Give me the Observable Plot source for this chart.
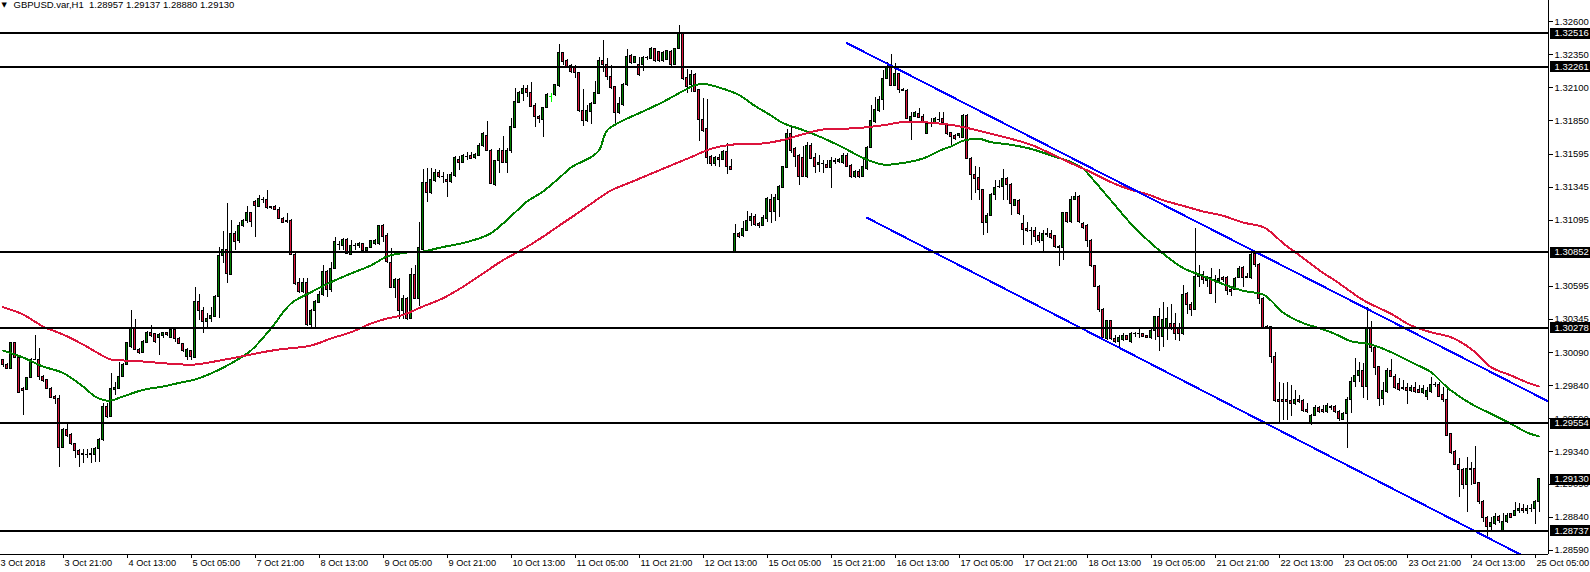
<!DOCTYPE html>
<html><head><meta charset="utf-8">
<script src="https://cdn.jsdelivr.net/npm/d3@7"></script>
<script src="https://cdn.jsdelivr.net/npm/@observablehq/plot@0.6"></script>
<style>
html,body{margin:0;padding:0;background:#fff;}
#chart svg{display:block;}
#chart svg rect,#chart svg line,#chart svg path{shape-rendering:crispEdges;}
</style></head><body><div id="chart"></div>
<script>
const symbolTitle = "GBPUSD.var,H1";
const lastBarOHLC = "1.28957 1.29137 1.28880 1.29130";

const open = [
1.30031,1.30000,1.29968,1.30162,1.30051,1.29816,1.29808,1.29899,1.30038,1.30036,
1.29909,1.29879,1.29816,1.29752,1.29740,1.29365,1.29505,1.29462,1.29393,1.29343,
1.29322,1.29317,1.29317,1.29310,1.29360,1.29424,1.29677,1.29601,1.29808,1.29816,
1.29904,1.30000,1.30132,1.30271,1.30114,1.30086,1.30165,1.30238,1.30228,1.30203,
1.30213,1.30238,1.30203,1.30259,1.30195,1.30157,1.30056,1.30099,1.30051,1.30478,
1.30410,1.30321,1.30347,1.30364,1.30511,1.30827,1.30870,1.30683,1.30992,1.30936,
1.31048,1.31088,1.31149,1.31230,1.31199,1.31250,1.31250,1.31194,1.31199,1.31174,
1.31106,1.31088,1.31093,1.30832,1.30617,1.30549,1.30620,1.30301,1.30405,1.30466,
1.30524,1.30706,1.30562,1.30726,1.30911,1.30903,1.30946,1.30832,1.30906,1.30903,
1.30916,1.30858,1.30883,1.30911,1.30911,1.31048,1.30972,1.30769,1.30579,1.30638,
1.30410,1.30498,1.30347,1.30683,1.30498,1.30870,1.31376,1.31300,1.31391,1.31455,
1.31427,1.31404,1.31384,1.31430,1.31556,1.31528,1.31581,1.31581,1.31566,1.31586,
1.31655,1.31738,1.31624,1.31366,1.31541,1.31617,1.31528,1.31619,1.31794,1.31984,
1.32054,1.32092,1.32059,1.31966,1.31882,1.31857,1.31946,1.32032,1.32042,1.32113,
1.32363,1.32302,1.32269,1.32257,1.32214,1.31923,1.31847,1.31915,1.31979,1.32054,
1.32307,1.32270,1.32181,1.32105,1.31910,1.31971,1.32118,1.32340,1.32290,1.32275,
1.32270,1.32328,1.32320,1.32396,1.32371,1.32302,1.32315,1.32371,1.32275,1.32396,
1.32510,1.32173,1.32118,1.32194,1.32080,1.31857,1.31784,1.31574,1.31523,1.31566,
1.31556,1.31612,1.31498,1.30853,1.30992,1.30979,1.31017,1.31093,1.31118,1.31068,
1.31055,1.31105,1.31250,1.31156,1.31250,1.31341,1.31493,1.31746,1.31637,1.31579,
1.31568,1.31422,1.31662,1.31568,1.31518,1.31523,1.31518,1.31490,1.31543,1.31536,
1.31528,1.31586,1.31510,1.31427,1.31465,1.31427,1.31485,1.31644,1.31839,1.31923,
1.32004,1.32168,1.32269,1.32117,1.32206,1.32085,1.32079,1.31852,1.31882,1.31902,
1.31882,1.31751,1.31832,1.31832,1.31862,1.31862,1.31827,1.31756,1.31738,1.31738,
1.31721,1.31890,1.31561,1.31442,1.31417,1.31321,1.31073,1.31131,1.31288,1.31346,
1.31346,1.31409,1.31359,1.31205,1.31240,1.31063,1.31028,1.31017,1.31010,1.30972,
1.30936,1.30984,1.30987,1.30972,1.30891,1.30883,1.31149,1.31081,1.31250,1.31275,
1.31068,1.31055,1.30941,1.30747,1.30592,1.30415,1.30195,1.30329,1.30195,1.30170,
1.30188,1.30213,1.30170,1.30233,1.30228,1.30228,1.30213,1.30203,1.30253,1.30360,
1.30208,1.30279,1.30309,1.30309,1.30271,1.30228,1.30532,1.30448,1.30415,1.30663,
1.30676,1.30633,1.30656,1.30643,1.30633,1.30658,1.30658,1.30567,1.30567,1.30658,
1.30734,1.30658,1.30658,1.30840,1.30759,1.30499,1.30279,1.30284,1.30056,1.29732,
1.29732,1.29727,1.29722,1.29702,1.29732,1.29722,1.29651,1.29555,1.29613,1.29671,
1.29656,1.29639,1.29671,1.29681,1.29638,1.29580,1.29626,1.29732,1.29871,1.29914,
1.29950,1.29833,1.30271,1.30127,1.29980,1.29740,1.29790,1.29950,1.29909,1.29853,
1.29818,1.29823,1.29798,1.29823,1.29808,1.29783,1.29757,1.29790,1.29848,1.29848,
1.29765,1.29727,1.29469,1.29335,1.29241,1.29201,1.29082,1.29208,1.29208,1.29100,
1.28955,1.28837,1.28766,1.28791,1.28842,1.28740,1.28804,1.28862,1.28854,1.28887,
1.28905,1.28887,1.28905,1.28900,1.28957];

const high = [
1.30036,1.30006,1.30170,1.30170,1.30056,1.29823,1.29904,1.30043,1.30221,1.30119,
1.29914,1.29884,1.29828,1.29765,1.29765,1.29512,1.29545,1.29474,1.29398,1.29353,
1.29353,1.29353,1.29360,1.29373,1.29436,1.29707,1.29702,1.29930,1.29866,1.30018,
1.30006,1.30170,1.30410,1.30339,1.30119,1.30183,1.30254,1.30296,1.30238,1.30233,
1.30246,1.30246,1.30264,1.30284,1.30203,1.30162,1.30119,1.30102,1.30587,1.30531,
1.30435,1.30385,1.30435,1.30524,1.30891,1.31012,1.31225,1.31093,1.31012,1.31080,
1.31103,1.31199,1.31156,1.31245,1.31283,1.31270,1.31321,1.31199,1.31204,1.31189,
1.31118,1.31149,1.31098,1.30840,1.30650,1.30650,1.30655,1.30415,1.30486,1.30557,
1.30751,1.30714,1.30777,1.30967,1.30936,1.30954,1.30954,1.30941,1.30921,1.30929,
1.30921,1.30891,1.30941,1.30946,1.31055,1.31063,1.30992,1.30878,1.30650,1.30650,
1.30524,1.30511,1.30726,1.30751,1.31080,1.31480,1.31485,1.31490,1.31480,1.31472,
1.31460,1.31442,1.31460,1.31579,1.31579,1.31594,1.31612,1.31612,1.31599,1.31675,
1.31763,1.31847,1.31629,1.31548,1.31637,1.31731,1.31637,1.31865,1.32092,1.32075,
1.32118,1.32118,1.32143,1.31979,1.31890,1.31953,1.32054,1.32054,1.32125,1.32429,
1.32371,1.32312,1.32277,1.32270,1.32219,1.32087,1.31966,1.31986,1.32148,1.32333,
1.32459,1.32325,1.32270,1.32113,1.32029,1.32130,1.32391,1.32350,1.32340,1.32333,
1.32340,1.32340,1.32406,1.32401,1.32376,1.32376,1.32383,1.32383,1.32401,1.32573,
1.32517,1.32239,1.32232,1.32206,1.32087,1.32017,1.32011,1.31586,1.31581,1.31591,
1.31624,1.31675,1.31553,1.31060,1.30999,1.31085,1.31161,1.31144,1.31136,1.31080,
1.31131,1.31270,1.31290,1.31290,1.31358,1.31503,1.31781,1.31814,1.31644,1.31594,
1.31654,1.31687,1.31675,1.31599,1.31586,1.31548,1.31548,1.31574,1.31561,1.31561,
1.31599,1.31599,1.31518,1.31472,1.31477,1.31561,1.31654,1.31966,1.32024,1.32034,
1.32231,1.32295,1.32353,1.32282,1.32211,1.32092,1.32085,1.31915,1.31923,1.31940,
1.31897,1.31839,1.31864,1.31872,1.31915,1.31915,1.31832,1.31763,1.31745,1.31756,
1.31895,1.31895,1.31574,1.31503,1.31498,1.31326,1.31144,1.31296,1.31397,1.31397,
1.31478,1.31417,1.31371,1.31250,1.31250,1.31131,1.31081,1.31043,1.31043,1.31005,
1.31017,1.31030,1.31017,1.30979,1.30903,1.31156,1.31156,1.31275,1.31308,1.31283,
1.31078,1.31063,1.30947,1.30752,1.30600,1.30423,1.30334,1.30334,1.30220,1.30220,
1.30233,1.30220,1.30246,1.30246,1.30271,1.30233,1.30220,1.30263,1.30365,1.30423,
1.30473,1.30435,1.30456,1.30390,1.30314,1.30600,1.30549,1.30473,1.31030,1.30752,
1.30709,1.30668,1.30726,1.30676,1.30721,1.30668,1.30668,1.30587,1.30658,1.30744,
1.30744,1.30688,1.30853,1.30853,1.30764,1.30511,1.30296,1.30289,1.30089,1.29866,
1.29859,1.29866,1.29841,1.29803,1.29765,1.29732,1.29702,1.29621,1.29689,1.29682,
1.29689,1.29702,1.29689,1.29689,1.29651,1.29638,1.29752,1.29904,1.30043,1.30018,
1.30005,1.30435,1.30329,1.30132,1.29985,1.29866,1.29967,1.30036,1.29924,1.29891,
1.29879,1.29853,1.29841,1.29866,1.29841,1.29841,1.29823,1.29904,1.29866,1.29866,
1.29823,1.29833,1.29479,1.29347,1.29284,1.29208,1.29297,1.29259,1.29378,1.29107,
1.28968,1.28847,1.28842,1.28867,1.28854,1.28867,1.28867,1.28872,1.28955,1.28948,
1.28938,1.28930,1.28935,1.28968,1.29137];

const low = [
1.29980,1.29960,1.29960,1.30043,1.29778,1.29613,1.29803,1.29892,1.30031,1.29879,
1.29866,1.29811,1.29740,1.29697,1.29221,1.29360,1.29449,1.29386,1.29285,1.29221,
1.29247,1.29285,1.29252,1.29259,1.29259,1.29416,1.29588,1.29596,1.29765,1.29808,
1.29899,1.29993,1.30119,1.30107,1.30076,1.30081,1.30157,1.30208,1.30157,1.30069,
1.30195,1.30213,1.30195,1.30170,1.30152,1.30094,1.30031,1.30031,1.30043,1.30334,
1.30238,1.30283,1.30321,1.30359,1.30352,1.30764,1.30617,1.30676,1.30865,1.30921,
1.31042,1.31073,1.31042,1.30967,1.31194,1.31219,1.31176,1.31180,1.31170,1.31098,
1.31073,1.31068,1.30827,1.30600,1.30536,1.30542,1.30288,1.30283,1.30283,1.30461,
1.30516,1.30511,1.30549,1.30719,1.30865,1.30865,1.30835,1.30827,1.30865,1.30883,
1.30853,1.30853,1.30878,1.30903,1.30903,1.30929,1.30769,1.30574,1.30498,1.30339,
1.30339,1.30334,1.30339,1.30491,1.30440,1.30865,1.31232,1.31290,1.31384,1.31409,
1.31371,1.31270,1.31371,1.31422,1.31472,1.31523,1.31548,1.31556,1.31553,1.31579,
1.31645,1.31619,1.31366,1.31354,1.31447,1.31523,1.31447,1.31599,1.31789,1.31979,
1.31999,1.32029,1.31953,1.31801,1.31827,1.31720,1.31941,1.31991,1.32034,1.32105,
1.32269,1.32257,1.32206,1.32168,1.31915,1.31809,1.31839,1.31819,1.31971,1.32047,
1.32219,1.32156,1.32087,1.31814,1.31895,1.31961,1.32113,1.32275,1.32282,1.32189,
1.32224,1.32307,1.32313,1.32290,1.32290,1.32295,1.32307,1.32257,1.32270,1.32391,
1.32156,1.32054,1.32067,1.32062,1.31693,1.31758,1.31515,1.31505,1.31505,1.31498,
1.31548,1.31440,1.31473,1.30848,1.30959,1.30967,1.31010,1.31050,1.31050,1.31030,
1.31050,1.31080,1.31073,1.31088,1.31118,1.31333,1.31485,1.31604,1.31493,1.31358,
1.31422,1.31409,1.31553,1.31452,1.31460,1.31447,1.31485,1.31333,1.31518,1.31523,
1.31518,1.31498,1.31409,1.31409,1.31409,1.31417,1.31472,1.31637,1.31832,1.31915,
1.31928,1.32160,1.32110,1.32110,1.32054,1.32074,1.31857,1.31700,1.31872,1.31864,
1.31827,1.31746,1.31801,1.31827,1.31839,1.31827,1.31738,1.31654,1.31700,1.31713,
1.31713,1.31554,1.31245,1.31296,1.31245,1.30979,1.30992,1.31124,1.31245,1.31334,
1.31245,1.31245,1.31131,1.31199,1.31131,1.30903,1.31005,1.30903,1.30929,1.30921,
1.30853,1.30967,1.30947,1.30878,1.30747,1.30790,1.31068,1.31073,1.31245,1.31068,
1.31022,1.30891,1.30739,1.30582,1.30397,1.30195,1.30183,1.30183,1.30157,1.30132,
1.30177,1.30183,1.30162,1.30203,1.30195,1.30203,1.30195,1.30188,1.30182,1.30102,
1.30132,1.30182,1.30258,1.30182,1.30177,1.30220,1.30380,1.30365,1.30410,1.30587,
1.30608,1.30587,1.30532,1.30461,1.30625,1.30625,1.30524,1.30516,1.30562,1.30651,
1.30587,1.30651,1.30643,1.30734,1.30456,1.30263,1.30263,1.30010,1.29715,1.29563,
1.29575,1.29575,1.29606,1.29689,1.29707,1.29639,1.29631,1.29537,1.29606,1.29631,
1.29626,1.29631,1.29651,1.29630,1.29570,1.29575,1.29360,1.29626,1.29828,1.29866,
1.29740,1.29727,1.30094,1.29917,1.29681,1.29689,1.29778,1.29899,1.29808,1.29798,
1.29803,1.29697,1.29790,1.29783,1.29778,1.29773,1.29727,1.29783,1.29823,1.29747,
1.29714,1.29454,1.29317,1.29234,1.28993,1.29049,1.28880,1.29082,1.29090,1.28938,
1.28804,1.28685,1.28740,1.28778,1.28796,1.28735,1.28796,1.28829,1.28847,1.28867,
1.28867,1.28860,1.28880,1.28789,1.28880];

const close = [
1.29993,1.29968,1.30162,1.30051,1.29783,1.29796,1.29899,1.30038,1.30036,1.29904,
1.29874,1.29816,1.29747,1.29740,1.29365,1.29505,1.29454,1.29398,1.29343,1.29317,
1.29317,1.29317,1.29322,1.29360,1.29429,1.29677,1.29601,1.29811,1.29823,1.29909,
1.30000,1.30162,1.30271,1.30112,1.30086,1.30170,1.30241,1.30216,1.30170,1.30226,
1.30238,1.30226,1.30259,1.30195,1.30157,1.30102,1.30107,1.30056,1.30474,1.30410,
1.30321,1.30347,1.30372,1.30516,1.30827,1.30870,1.30688,1.30992,1.30929,1.31055,
1.31093,1.31149,1.31080,1.31204,1.31257,1.31250,1.31189,1.31189,1.31174,1.31106,
1.31075,1.31085,1.30832,1.30612,1.30549,1.30620,1.30301,1.30410,1.30473,1.30531,
1.30706,1.30562,1.30726,1.30929,1.30911,1.30946,1.30840,1.30901,1.30906,1.30916,
1.30860,1.30883,1.30934,1.30936,1.31048,1.30967,1.30777,1.30579,1.30638,1.30410,
1.30498,1.30347,1.30683,1.30498,1.30886,1.31379,1.31300,1.31397,1.31455,1.31427,
1.31427,1.31384,1.31435,1.31566,1.31528,1.31581,1.31581,1.31561,1.31591,1.31662,
1.31746,1.31624,1.31371,1.31541,1.31624,1.31528,1.31624,1.31806,1.31991,1.32059,
1.32092,1.32059,1.31958,1.31877,1.31865,1.31948,1.32042,1.32032,1.32118,1.32363,
1.32295,1.32262,1.32219,1.32214,1.31923,1.31847,1.31923,1.31979,1.32062,1.32307,
1.32270,1.32181,1.32097,1.31910,1.31979,1.32123,1.32333,1.32290,1.32333,1.32199,
1.32328,1.32328,1.32396,1.32300,1.32300,1.32366,1.32376,1.32270,1.32396,1.32510,
1.32168,1.32105,1.32194,1.32072,1.31857,1.31776,1.31566,1.31523,1.31566,1.31556,
1.31612,1.31498,1.31480,1.30992,1.30967,1.31030,1.31093,1.31118,1.31060,1.31055,
1.31111,1.31257,1.31156,1.31265,1.31346,1.31498,1.31746,1.31619,1.31574,1.31427,
1.31427,1.31662,1.31561,1.31503,1.31528,1.31523,1.31490,1.31543,1.31536,1.31553,
1.31586,1.31503,1.31427,1.31465,1.31427,1.31498,1.31644,1.31847,1.31933,1.32009,
1.32168,1.32262,1.32117,1.32206,1.32085,1.32079,1.31864,1.31882,1.31907,1.31872,
1.31832,1.31827,1.31832,1.31864,1.31862,1.31832,1.31746,1.31730,1.31713,1.31751,
1.31890,1.31561,1.31442,1.31409,1.31321,1.31073,1.31131,1.31288,1.31341,1.31351,
1.31409,1.31359,1.31215,1.31245,1.31144,1.31022,1.31010,1.31015,1.30967,1.30941,
1.30987,1.30987,1.30962,1.30891,1.30886,1.31149,1.31081,1.31250,1.31275,1.31081,
1.31035,1.30941,1.30747,1.30592,1.30415,1.30203,1.30329,1.30195,1.30170,1.30203,
1.30220,1.30188,1.30233,1.30228,1.30233,1.30208,1.30203,1.30253,1.30360,1.30208,
1.30339,1.30347,1.30279,1.30233,1.30228,1.30524,1.30448,1.30415,1.30668,1.30681,
1.30643,1.30651,1.30537,1.30640,1.30648,1.30638,1.30557,1.30549,1.30651,1.30726,
1.30658,1.30663,1.30835,1.30752,1.30499,1.30279,1.30284,1.30056,1.29722,1.29715,
1.29715,1.29715,1.29702,1.29732,1.29715,1.29646,1.29639,1.29613,1.29671,1.29639,
1.29639,1.29682,1.29674,1.29638,1.29588,1.29626,1.29732,1.29871,1.29914,1.29950,
1.29833,1.30271,1.30127,1.29975,1.29740,1.29798,1.29950,1.29909,1.29823,1.29808,
1.29816,1.29798,1.29823,1.29790,1.29783,1.29816,1.29798,1.29848,1.29841,1.29757,
1.29727,1.29461,1.29327,1.29241,1.29201,1.29082,1.29208,1.29201,1.29095,1.28955,
1.28837,1.28766,1.28796,1.28842,1.28811,1.28804,1.28854,1.28837,1.28887,1.28905,
1.28887,1.28905,1.28900,1.28957,1.29130];

// bar shown as a lime doji cross in the reference
const limeBars = [137];

// moving averages sampled at bar indices
const greenMaBar = [0,5,10,15,20,23,25,27,30,35,40,45,48,52,57,62,67,72,77,82,87,92,96,100,105,110,115,120,122,125,128,131,135,140,142,147,149,151,154,160,165,170,173,175,179,184,188,191,195,200,205,210,215,220,225,230,235,237,240,244,247,252,257,262,267,270,272,277,282,286,290,295,300,305,310,315,317,320,325,330,333,337,342,347,352,357,360,362,367,372,377,381,384];
const greenMa = [1.30107,1.30053,1.29985,1.29936,1.29833,1.29757,1.29731,1.29727,1.29757,1.29807,1.29833,1.29867,1.29886,1.29932,1.30008,1.30107,1.30274,1.30463,1.30549,1.30625,1.30691,1.30752,1.30820,1.30847,1.30858,1.30892,1.30922,1.30968,1.30997,1.31070,1.31154,1.31237,1.31313,1.31442,1.31496,1.31574,1.31625,1.31776,1.31837,1.31921,1.31993,1.32076,1.32120,1.32131,1.32103,1.32046,1.31962,1.31909,1.31833,1.31780,1.31719,1.31647,1.31568,1.31518,1.31530,1.31564,1.31634,1.31655,1.31698,1.31713,1.31688,1.31668,1.31637,1.31587,1.31536,1.31488,1.31422,1.31245,1.31068,1.30949,1.30843,1.30733,1.30672,1.30610,1.30560,1.30532,1.30486,1.30395,1.30315,1.30267,1.30232,1.30177,1.30152,1.30094,1.30018,1.29942,1.29856,1.29803,1.29702,1.29626,1.29550,1.29484,1.29454];
const redMaBar = [0,5,10,15,20,25,27,30,35,40,45,48,57,65,69,77,82,87,92,96,100,105,110,115,120,125,130,135,140,143,147,152,157,162,167,172,177,182,187,190,195,200,205,210,215,220,225,230,235,238,242,247,252,257,262,267,272,277,282,286,290,295,300,305,310,315,317,320,325,330,333,340,347,352,357,362,367,372,377,381,384];
const redMa = [1.30435,1.30380,1.30289,1.30228,1.30152,1.30065,1.30038,1.30031,1.30023,1.30010,1.30000,1.30000,1.30046,1.30094,1.30114,1.30144,1.30198,1.30245,1.30311,1.30349,1.30376,1.30441,1.30503,1.30590,1.30691,1.30792,1.30875,1.30970,1.31074,1.31135,1.31220,1.31321,1.31384,1.31448,1.31511,1.31574,1.31637,1.31668,1.31675,1.31678,1.31704,1.31748,1.31784,1.31789,1.31798,1.31816,1.31840,1.31839,1.31826,1.31814,1.31789,1.31751,1.31713,1.31668,1.31600,1.31528,1.31460,1.31384,1.31326,1.31294,1.31247,1.31205,1.31162,1.31129,1.31078,1.31044,1.31004,1.30922,1.30809,1.30695,1.30638,1.30490,1.30385,1.30296,1.30245,1.30207,1.30119,1.29980,1.29917,1.29864,1.29833];

// descending channel (two trend lines)
const channelUpperBar = [211, 386.375];
const channelUpper = [1.32439, 1.29719];
const channelLowerBar = [216, 386.375];
const channelLower = [1.31114, 1.28448];

// horizontal levels and the current bid
const levels = [1.32516, 1.32261, 1.30852, 1.30278, 1.29554, 1.28737];
const bidPrice = 1.29130;

// axis ticks
const priceTicks = [1.32600,1.32350,1.32100,1.31850,1.31595,1.31345,1.31095,1.30595,1.30345,1.30090,1.29840,1.29590,1.29340,1.29090,1.28840,1.28590];
const timeTickBars = [-1,15,31,47,63,79,95,111,127,143,159,175,191,207,223,239,255,271,287,303,319,335,351,367,383];
const timeTickLabels = ["3 Oct 2018","3 Oct 21:00","4 Oct 13:00","5 Oct 05:00","7 Oct 21:00","8 Oct 13:00","9 Oct 05:00","9 Oct 21:00","10 Oct 13:00","11 Oct 05:00","11 Oct 21:00","12 Oct 13:00","15 Oct 05:00","15 Oct 21:00","16 Oct 13:00","17 Oct 05:00","17 Oct 21:00","18 Oct 13:00","19 Oct 05:00","21 Oct 21:00","22 Oct 13:00","23 Oct 05:00","23 Oct 21:00","24 Oct 13:00","25 Oct 05:00"];

// ---- build tables ----
const n = Math.min(open.length, high.length, low.length, close.length);
const bars = d3.range(n).map(i => ({i, o: open[i], h: high[i], l: low[i], c: close[i]}));
const bodies = bars.filter(d => d.o !== d.c);
const dojis = bars.filter(d => d.o === d.c);
const greenLine = greenMaBar.map((b, j) => ({b, p: greenMa[j]}));
const redLine = redMaBar.map((b, j) => ({b, p: redMa[j]}));
const upperLine = channelUpperBar.map((b, j) => ({b, p: channelUpper[j]}));
const lowerLine = channelLowerBar.map((b, j) => ({b, p: channelLower[j]}));
const timeTicks = timeTickBars.map((b, j) => ({b, label: timeTickLabels[j]}));
const boxes = levels.concat([bidPrice]);

const W = 1590, H = 572, mR = 42, mB = 18;
const xDomain = [-0.625, 386.375];
const yDomain = [1.28558, 1.32763];
const RED = "#dc143c", GREEN = "#008000";
const FONT = "'Liberation Sans', Arial, sans-serif";

const chart = Plot.plot({
  width: W, height: H,
  marginLeft: 0, marginRight: mR, marginTop: 0, marginBottom: mB,
  x: {type: "linear", domain: xDomain, axis: null},
  y: {type: "linear", domain: yDomain, axis: null},
  style: {fontFamily: FONT, fontSize: "9.5px", background: "#fff", color: "#000", overflow: "visible"},
  marks: [
    // candles
    Plot.ruleX(bars, {x: "i", y1: "l", y2: "h", stroke: d => limeBars.includes(d.i) ? "#00ff00" : "#000", strokeWidth: 1}),
    Plot.rect(bodies, {x1: d => d.i - 0.25, x2: d => d.i + 0.25, y1: "o", y2: "c",
      fill: d => d.c > d.o ? GREEN : RED, stroke: "#000", strokeWidth: 1}),
    Plot.ruleY(dojis, {y: "o", x1: d => d.i - 0.375, x2: d => d.i + 0.375,
      stroke: d => limeBars.includes(d.i) ? "#00ff00" : "#000", strokeWidth: 1}),
    // moving averages
    Plot.line(greenLine, {x: "b", y: "p", stroke: GREEN, strokeWidth: 2, curve: "catmull-rom"}),
    Plot.line(redLine, {x: "b", y: "p", stroke: RED, strokeWidth: 2, curve: "catmull-rom"}),
    // channel
    Plot.line(upperLine, {x: "b", y: "p", stroke: "#0000ff", strokeWidth: 2, clip: true}),
    Plot.line(lowerLine, {x: "b", y: "p", stroke: "#0000ff", strokeWidth: 2, clip: true}),
    // horizontal levels
    Plot.ruleY(levels, {y: d => d, stroke: "#000", strokeWidth: 2}),
    // frame lines (bottom and right)
    Plot.ruleY([yDomain[0]], {stroke: "#000", strokeWidth: 1}),
    Plot.ruleX([xDomain[1]], {stroke: "#000", strokeWidth: 1}),
    // price axis
    Plot.axisY(priceTicks, {anchor: "right", tickSize: 4, tickPadding: 2, tickFormat: d => d.toFixed(5), label: null, fontSize: 9.5}),
    Plot.rect(boxes, {y1: d => d, y2: d => d, insetLeft: 1550, insetRight: -mR, insetTop: -5, insetBottom: -6, fill: "#000"}),
    Plot.text(boxes, {y: d => d, text: d => d.toFixed(5), frameAnchor: "right", textAnchor: "start", dx: 6, fill: "#fff", fontSize: 9.5}),
    // time axis
    Plot.ruleX(timeTicks, {x: "b", insetTop: H - mB - 4, dy: 4, stroke: "#000"}),
    Plot.text(timeTicks, {x: "b", text: "label", frameAnchor: "bottom", textAnchor: "start", lineAnchor: "top", dx: 1.5, dy: 5, fontSize: 9.2}),
    // header
    Plot.text(["\u25BC"], {text: d => d, frameAnchor: "top-left", textAnchor: "start", lineAnchor: "top", dx: 1, dy: 2, fontSize: 7, fontFamily: "DejaVu Sans"}),
    Plot.text([symbolTitle + "\u00a0\u00a0" + lastBarOHLC], {text: d => d, frameAnchor: "top-left", textAnchor: "start", lineAnchor: "top", dx: 13, dy: 1, fontSize: 9.5})
  ]
});
document.getElementById("chart").appendChild(chart);
</script>
</body></html>
